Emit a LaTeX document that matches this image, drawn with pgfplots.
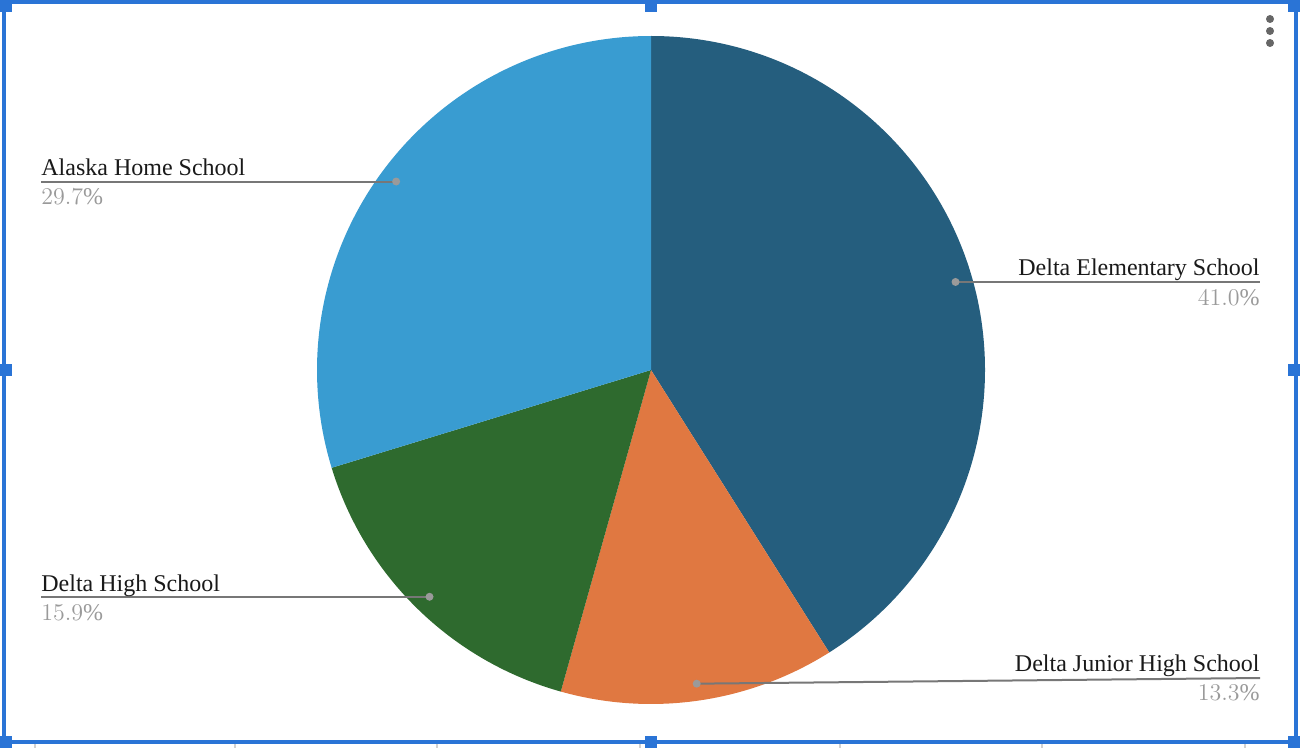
\documentclass[border=0pt]{standalone}
\usepackage{pgfplots}
\pgfplotsset{compat=1.18}
\usepackage{pgfplotstable}
\usepackage{fontspec}
\setmainfont{Liberation Serif}

\definecolor{cElem}{HTML}{255E7E}
\definecolor{cJun}{HTML}{E07841}
\definecolor{cHigh}{HTML}{2E6A2E}
\definecolor{cAk}{HTML}{399CD1}
\definecolor{selblue}{HTML}{2A74D6}
\definecolor{leader}{HTML}{777777}
\definecolor{pctgray}{HTML}{9A9A9A}

% share of enrolment, per cent (clockwise from 12 o'clock)
\pgfplotstableread{
name share
Elem 41.0
Junior 13.3
High 15.9
Alaska 29.7
}\piedata

\newcommand{\handle}[2]{\fill[selblue] (axis cs:#1-6,#2-6) rectangle (axis cs:#1+6,#2+6);}

\begin{document}
\begin{tikzpicture}
% angles from the table (normalised to the total)
\pgfplotstablegetelem{0}{share}\of\piedata\let\sA\pgfplotsretval
\pgfplotstablegetelem{1}{share}\of\piedata\let\sB\pgfplotsretval
\pgfplotstablegetelem{2}{share}\of\piedata\let\sC\pgfplotsretval
\pgfplotstablegetelem{3}{share}\of\piedata\let\sD\pgfplotsretval
\pgfmathsetmacro{\tot}{\sA+\sB+\sC+\sD}
\pgfmathsetmacro{\eA}{90-360*\sA/\tot}
\pgfmathsetmacro{\eB}{\eA-360*\sB/\tot}
\pgfmathsetmacro{\eC}{\eB-360*\sC/\tot}
\pgfmathsetmacro{\eD}{\eC-360*\sD/\tot}
% label dots: mid angle, 317 px out from the centre (651,370)
\pgfmathsetmacro{\mA}{(90+\eA)/2}\pgfmathsetmacro{\mB}{(\eA+\eB)/2}
\pgfmathsetmacro{\mC}{(\eB+\eC)/2}\pgfmathsetmacro{\mD}{(\eC+\eD)/2}
\pgfmathsetmacro{\xA}{651+317*cos(\mA)}\pgfmathsetmacro{\yA}{370-317*sin(\mA)}
\pgfmathsetmacro{\xB}{651+317*cos(\mB)}\pgfmathsetmacro{\yB}{370-317*sin(\mB)}
\pgfmathsetmacro{\xC}{651+317*cos(\mC)}\pgfmathsetmacro{\yC}{370-317*sin(\mC)}
\pgfmathsetmacro{\xD}{651+317*cos(\mD)}\pgfmathsetmacro{\yD}{370-317*sin(\mD)}
\begin{axis}[
  width=650pt, height=374pt, scale only axis,
  xmin=0, xmax=1300, ymin=0, ymax=748, y dir=reverse,
  hide axis, clip=false,
]
% slices
\fill[cElem] (axis cs:651,370) -- ++(90:167pt) arc[start angle=90, end angle=\eA, radius=167pt] -- cycle;
\fill[cJun]  (axis cs:651,370) -- ++(\eA:167pt) arc[start angle=\eA, end angle=\eB, radius=167pt] -- cycle;
\fill[cHigh] (axis cs:651,370) -- ++(\eB:167pt) arc[start angle=\eB, end angle=\eC, radius=167pt] -- cycle;
\fill[cAk]   (axis cs:651,370) -- ++(\eC:167pt) arc[start angle=\eC, end angle=\eD, radius=167pt] -- cycle;
% leader lines
\draw[leader, line width=1pt] (axis cs:\xA,\yA) -- (axis cs:1260,\yA);
\draw[leader, line width=1pt] (axis cs:\xB,\yB) -- (axis cs:1260,678);
\draw[leader, line width=1pt] (axis cs:\xC,\yC) -- (axis cs:41,\yC);
\draw[leader, line width=1pt] (axis cs:\xD,\yD) -- (axis cs:41,\yD);
\fill[pctgray] (axis cs:\xA,\yA) circle[radius=2pt];
\fill[pctgray] (axis cs:\xB,\yB) circle[radius=2pt];
\fill[pctgray] (axis cs:\xC,\yC) circle[radius=2pt];
\fill[pctgray] (axis cs:\xD,\yD) circle[radius=2pt];
% labels
\begin{scope}[every node/.style={font=\fontsize{12}{14}\selectfont, inner sep=0pt}]
\node[anchor=base east, text=black!90] at (axis cs:1260,276) {Delta Elementary School};
\node[anchor=base east, text=pctgray] at (axis cs:1260,305) {\pgfmathprintnumber[fixed,fixed zerofill,precision=1]{\sA}\%};
\node[anchor=base east, text=black!90] at (axis cs:1260,671) {Delta Junior High School};
\node[anchor=base east, text=pctgray] at (axis cs:1260,700) {\pgfmathprintnumber[fixed,fixed zerofill,precision=1]{\sB}\%};
\node[anchor=base west, text=black!90] at (axis cs:41,591) {Delta High School};
\node[anchor=base west, text=pctgray] at (axis cs:41,620) {\pgfmathprintnumber[fixed,fixed zerofill,precision=1]{\sC}\%};
\node[anchor=base west, text=black!90] at (axis cs:41,176) {Alaska Home School};
\node[anchor=base west, text=pctgray] at (axis cs:41,205) {\pgfmathprintnumber[fixed,fixed zerofill,precision=1]{\sD}\%};
\end{scope}
% kebab menu
\fill[black!60] (axis cs:1270,19) circle[radius=2pt];
\fill[black!60] (axis cs:1270,31) circle[radius=2pt];
\fill[black!60] (axis cs:1270,43) circle[radius=2pt];
% spreadsheet grid marks below the chart
\draw[black!18, line width=0.6pt]
  (axis cs:35,744) -- (axis cs:35,748) (axis cs:235,744) -- (axis cs:235,748)
  (axis cs:437,744) -- (axis cs:437,748) (axis cs:640,744) -- (axis cs:640,748)
  (axis cs:840,744) -- (axis cs:840,748) (axis cs:1042,744) -- (axis cs:1042,748)
  (axis cs:1245,744) -- (axis cs:1245,748);
% selection frame and handles
\draw[selblue, line width=1.6pt] (axis cs:4,2) rectangle (axis cs:1296,742);
\handle{6}{6}\handle{651}{6}\handle{1294}{6}
\handle{6}{370}\handle{1294}{370}
\handle{6}{742}\handle{651}{742}\handle{1294}{742}
\path (axis cs:0,0) rectangle (axis cs:1300,748);
\end{axis}
\end{tikzpicture}
\end{document}
